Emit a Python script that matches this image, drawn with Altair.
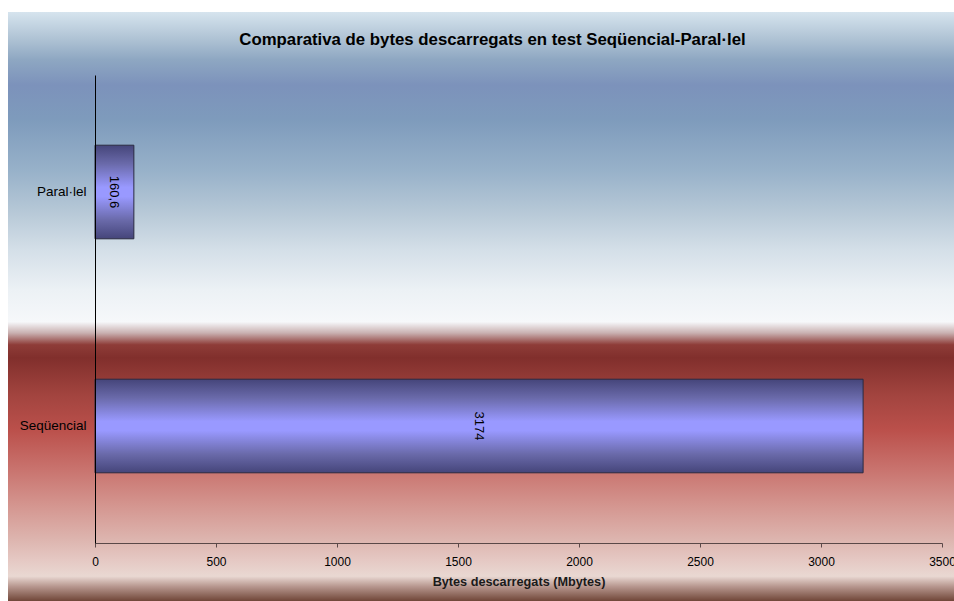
import altair as alt
import pandas as pd

# Downloaded volume per test mode (Mbytes)
modes = ["Paral·lel", "Seqüencial"]
mbytes = [160.6, 3174]
x_ticks = [0, 500, 1000, 1500, 2000, 2500, 3000, 3500]

df = pd.DataFrame({"mode": modes, "mbytes": mbytes})
# value labels use a decimal comma
df["lbl"] = [f"{v:g}".replace(".", ",") for v in mbytes]

W, H = 847, 468
PAD_L, PAD_T, PAD_R, PAD_B = 95, 75, 12, 58

# Backdrop: blue sky fading to white, then a red band fading to pale pink
backdrop_stops = [
    (0.000, "#d6e4ee"), (0.048, "#adc1d3"), (0.081, "#8ea7c2"),
    (0.124, "#7c92bb"), (0.183, "#7e9bbc"), (0.268, "#97b1c9"),
    (0.336, "#b5c7d6"), (0.404, "#d4dfe8"), (0.472, "#ecf1f5"),
    (0.526, "#f6f8fa"), (0.545, "#c9b0b0"), (0.565, "#8e3c38"),
    (0.587, "#812f2c"), (0.650, "#a2443f"), (0.710, "#bb504b"),
    (0.778, "#c9746f"), (0.837, "#d4958f"), (0.896, "#ddb5af"),
    (0.930, "#e5c8c3"), (0.958, "#e9d8d2"), (0.975, "#b89890"),
    (1.000, "#704638"),
]
backdrop_grad = alt.LinearGradient(
    gradient="linear",
    stops=[alt.GradientStop(offset=o, color=c) for o, c in backdrop_stops],
    x1=0, x2=0, y1=0, y2=1,
)

bar_grad = alt.LinearGradient(
    gradient="linear",
    stops=[
        alt.GradientStop(offset=0.0, color="#45457a"),
        alt.GradientStop(offset=0.2, color="#6a6aaa"),
        alt.GradientStop(offset=0.45, color="#9999ff"),
        alt.GradientStop(offset=0.55, color="#9999ff"),
        alt.GradientStop(offset=0.8, color="#6a6aaa"),
        alt.GradientStop(offset=1.0, color="#45457a"),
    ],
    x1=0, x2=0, y1=0, y2=1,
)

backdrop = alt.Chart(pd.DataFrame({"k": [0]})).mark_rect(
    color=backdrop_grad, strokeWidth=0
).encode(
    x=alt.value(8 - PAD_L),
    x2=alt.value(W + PAD_R),
    y=alt.value(12 - PAD_T),
    y2=alt.value(H + PAD_B),
)

y_enc = alt.Y(
    "mode:N",
    sort=modes,
    scale=alt.Scale(paddingInner=0.6, paddingOuter=0.3),
    axis=alt.Axis(
        title=None, ticks=False, tickSize=0, labelPadding=9,
        labelFontSize=13.5, labelColor="#000000", labelFont="Liberation Sans",
        domainColor="#000000", domainWidth=1, zindex=1,
    ),
)

bars = alt.Chart(df).mark_bar(
    color=bar_grad, stroke="#2a2a40", strokeWidth=1
).encode(
    x=alt.X(
        "mbytes:Q",
        scale=alt.Scale(domain=[0, 3500], nice=False),
        axis=alt.Axis(
            title="Bytes descarregats (Mbytes)", values=x_ticks, format="d",
            grid=False, tickSize=4, tickColor="#5a4848", domainColor="#5a4848",
            labelFontSize=12, labelColor="#000000", labelFont="Liberation Sans",
            labelPadding=9, labelFlush=False, labelOverlap=False,
            titleFontSize=12.7, titleFontWeight="bold", titleColor="#1a1a1a",
            titleFont="Liberation Sans", titlePadding=8, zindex=1,
        ),
    ),
    y=y_enc,
)

labels = alt.Chart(df).transform_calculate(
    mid="datum.mbytes / 2",
).mark_text(
    angle=90, fontSize=13, color="#000000", font="Liberation Sans",
    align="center", baseline="middle",
).encode(
    x="mid:Q",
    y=alt.Y("mode:N", sort=modes),
    text="lbl:N",
)

chart = alt.layer(backdrop, bars, labels).properties(
    width=W,
    height=H,
    autosize=alt.AutoSizeParams(type="none"),
    padding={"left": PAD_L, "top": PAD_T, "right": PAD_R, "bottom": PAD_B},
    background="#ffffff",
    title=alt.TitleParams(
        "Comparativa de bytes descarregats en test Seqüencial-Paral·lel",
        fontSize=16.8, fontWeight="bold", font="Liberation Sans", color="#000000",
        anchor="middle", frame="group", dx=-26, offset=-37,
    ),
).configure_view(stroke=None)

chart.save("out.html", embed_options={"renderer": "svg", "actions": False})
